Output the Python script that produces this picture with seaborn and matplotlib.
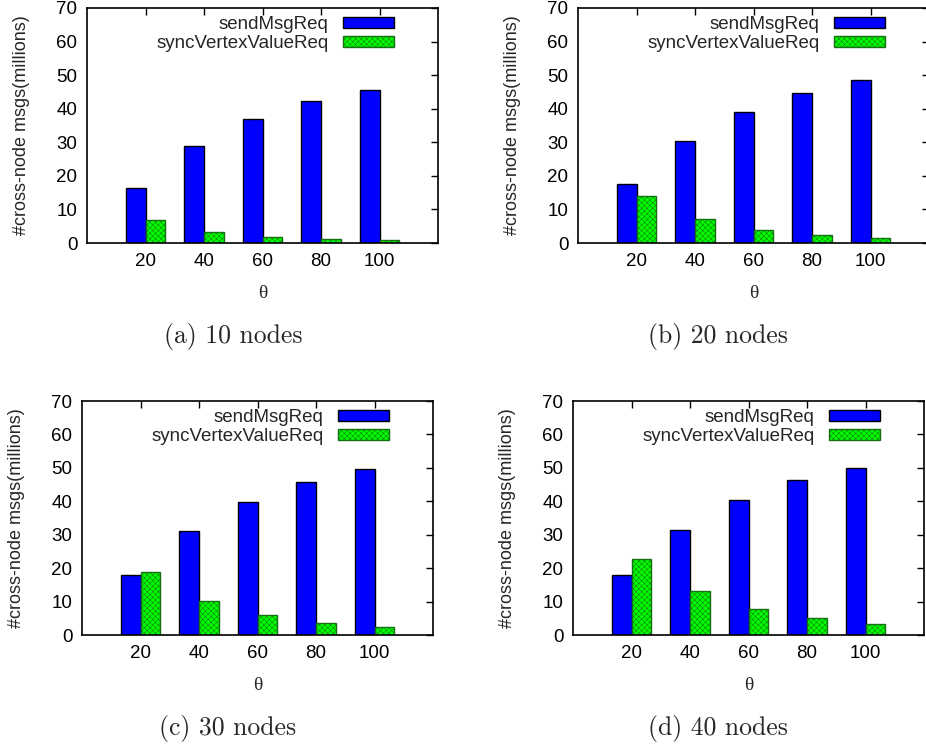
import matplotlib
matplotlib.use("Agg")
import matplotlib.pyplot as plt
import seaborn as sns
import pandas as pd
from matplotlib.patches import Patch

# theta values on the x axis
theta = [20, 40, 60, 80, 100]
series_names = ["sendMsgReq", "syncVertexValueReq"]

# cross-node message counts (millions) per cluster size
send_10 = [16.5, 28.8, 36.9, 42.2, 45.7]
sync_10 = [7.0, 3.3, 1.9, 1.2, 0.8]
send_20 = [17.6, 30.5, 39.1, 44.8, 48.7]
sync_20 = [14.0, 7.1, 4.0, 2.5, 1.6]
send_30 = [17.8, 31.2, 39.9, 45.7, 49.8]
sync_30 = [18.9, 10.3, 6.1, 3.7, 2.5]
send_40 = [18.0, 31.3, 40.3, 46.3, 50.0]
sync_40 = [22.8, 13.1, 7.9, 5.0, 3.4]

captions = ["(a) 10 nodes", "(b) 20 nodes", "(c) 30 nodes", "(d) 40 nodes"]
y_ticks = [0, 10, 20, 30, 40, 50, 60, 70]
y_label = "#cross-node msgs(millions)"
x_label = "θ"

panels = [(send_10, sync_10), (send_20, sync_20),
          (send_30, sync_30), (send_40, sync_40)]

sns.set_style("white")
plt.rcParams["font.family"] = ["Liberation Sans", "DejaVu Sans"]
plt.rcParams["hatch.linewidth"] = 0.35

BLUE = "#0000ff"
GREEN = "#00ff00"
HATCH_EDGE = "#157015"
HATCH = "xxxxxx"
palette = {"sendMsgReq": BLUE, "syncVertexValueReq": GREEN}

W, H = 926, 747
fig = plt.figure(figsize=(W / 100, H / 100), dpi=100)

# axes boxes in pixels: left, top, right, bottom
boxes = [(87, 8, 438, 243), (578, 8, 929, 243),
         (82, 401, 433, 635), (573, 401, 924, 635)]
caption_pos = [(233, 336), (718, 336), (228, 728), (718, 728)]

for (send, sync), box, cap, cpos in zip(panels, boxes, captions, caption_pos):
    l, t, r, b = box
    ax = fig.add_axes([l / W, 1 - b / H, (r - l) / W, (b - t) / H])
    df = pd.DataFrame({
        "theta": theta * 2,
        "series": [series_names[0]] * len(theta) + [series_names[1]] * len(theta),
        "value": send + sync,
    })
    sns.barplot(data=df, x="theta", y="value", hue="series",
                hue_order=series_names, palette=palette, width=0.68,
                edgecolor="black", linewidth=1.0, saturation=1,
                legend=False, ax=ax)
    n = len(theta)
    for p in ax.patches[n:2 * n]:
        p.set_hatch(HATCH)
        p.set_edgecolor(HATCH_EDGE)
        p.set_linewidth(1.0)

    ax.set_xlim(-1, len(theta))
    ax.set_ylim(0, 70)
    ax.set_yticks(y_ticks)
    ax.tick_params(direction="in", top=True, right=True, length=5, width=1,
                   labelsize=13.5, colors="black", pad=7)
    for s in ax.spines.values():
        s.set_visible(True)
        s.set_color("black")
        s.set_linewidth(1.2)
    ax.set_ylabel(y_label, fontsize=13)
    ax.yaxis.set_label_coords(-57 / (r - l), 0.5)
    ax.set_xlabel(x_label, fontsize=14, family=["Liberation Serif", "DejaVu Serif"],
                  labelpad=11)

    handles = [Patch(facecolor=BLUE, edgecolor="black", linewidth=1.0),
               Patch(facecolor=GREEN, edgecolor=HATCH_EDGE, hatch=HATCH,
                     linewidth=1.0)]
    ax.legend(handles, series_names, loc="upper right",
              bbox_to_anchor=(0.875, 0.965), frameon=False, markerfirst=False,
              borderaxespad=0, borderpad=0, handlelength=2.75,
              handleheight=0.55, handletextpad=0.75, labelspacing=0.12,
              fontsize=13.5)

    fig.text(cpos[0] / W, 1 - cpos[1] / H, cap, ha="center", va="center",
             fontsize=18.5, family=["cmr10", "DejaVu Serif"])

fig.savefig("out.png", dpi=100)
